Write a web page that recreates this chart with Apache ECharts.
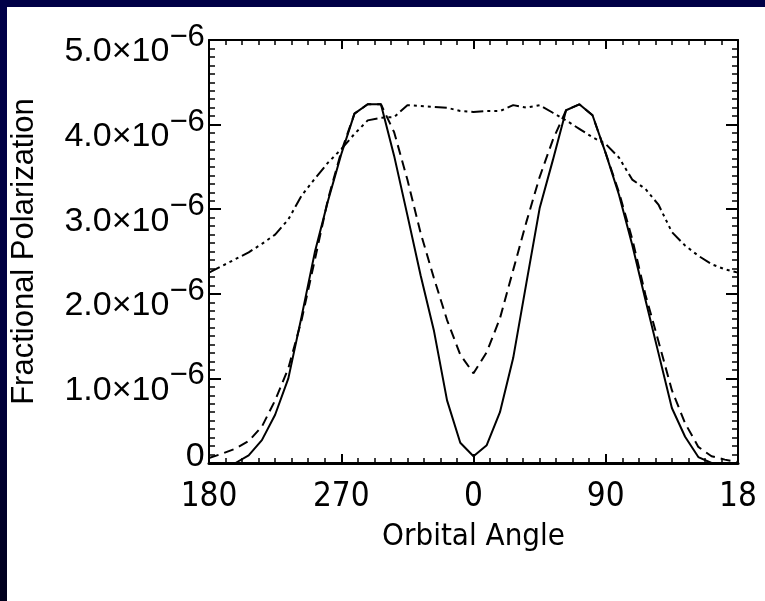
<!DOCTYPE html>
<html>
<head>
<meta charset="utf-8">
<script src="https://cdn.jsdelivr.net/npm/echarts@6/dist/echarts.min.js"></script>
<style>
  html, body { margin: 0; padding: 0; background: #ffffff; }
  #chart { width: 765px; height: 601px; }
</style>
</head>
<body>
<div id="chart"></div>
<script>
// Orbital phase (degrees, centred on 0), sampled every 9 degrees
const orbitalAngle = [
  -180, -171, -162, -153, -144, -135, -126, -117, -108, -99,
  -90, -81, -72, -63, -54, -45, -36, -27, -18, -9,
  0, 9, 18, 27, 36, 45, 54, 63, 72, 81,
  90, 99, 108, 117, 126, 135, 144, 153, 162, 171, 180
];

// Fractional polarization, in units of 1e-6
const polSolid = [
  0.00, 0.00, 0.00, 0.09, 0.27, 0.57, 1.00, 1.73, 2.49, 3.10,
  3.65, 4.13, 4.24, 4.24, 3.63, 2.93, 2.22, 1.57, 0.74, 0.24,
  0.08, 0.21, 0.60, 1.24, 2.13, 3.01, 3.58, 4.17, 4.24, 4.11,
  3.66, 3.17, 2.58, 1.93, 1.29, 0.65, 0.31, 0.07, 0.00, 0.00, 0.00
];
const polDashed = [
  0.06, 0.11, 0.17, 0.26, 0.43, 0.74, 1.12, 1.69, 2.40, 3.12,
  3.68, 4.13, 4.24, 4.24, 3.91, 3.35, 2.72, 2.19, 1.69, 1.28,
  1.06, 1.31, 1.71, 2.28, 2.85, 3.38, 3.82, 4.17, 4.24, 4.11,
  3.66, 3.20, 2.65, 1.99, 1.43, 0.86, 0.47, 0.19, 0.08, 0.04, 0.01
];
const polDashDot = [
  2.25, 2.33, 2.41, 2.49, 2.59, 2.70, 2.88, 3.16, 3.36, 3.55,
  3.71, 3.89, 4.05, 4.08, 4.09, 4.23, 4.22, 4.21, 4.20, 4.16,
  4.15, 4.16, 4.16, 4.23, 4.20, 4.23, 4.14, 4.05, 3.95, 3.85,
  3.77, 3.61, 3.35, 3.24, 3.05, 2.73, 2.57, 2.45, 2.35, 2.29, 2.25
];

// Tick labels
const xTickValues = [-180, -90, 0, 90, 180];
const xTickLabels = ['180', '270', '0', '90', '18'];
const yTickValues = [0, 1, 2, 3, 4, 5];
const yTickLabels = ['0', '1.0', '2.0', '3.0', '4.0', '5.0'];

const FONT = '"Liberation Sans", Arial, Helvetica, sans-serif';
const NARROW = '"Liberation Sans Narrow", "DejaVu Sans Condensed", "Liberation Sans", sans-serif';

function pairs(ys) {
  return orbitalAngle.map((a, i) => [a, ys[i]]);
}

const axisLineStyle = { color: '#000', width: 2 };
const boxLine = { show: true, onZero: false, lineStyle: axisLineStyle };

const chart = echarts.init(document.getElementById('chart'), null, { renderer: 'canvas' });

chart.setOption({
  animation: false,
  backgroundColor: '#ffffff',
  graphic: [
    { type: 'rect', shape: { x: 0, y: 0, width: 765, height: 7 }, style: { fill: '#000046' }, silent: true },
    { type: 'rect', shape: { x: 0, y: 0, width: 7, height: 601 },
      style: { fill: new echarts.graphic.LinearGradient(0, 0, 0, 1, [
        { offset: 0, color: '#000048' }, { offset: 0.6, color: '#000040' }, { offset: 1, color: '#00001c' }
      ]) }, silent: true }
  ],
  grid: { left: 209, right: 27, top: 40, bottom: 138, containLabel: false },
  xAxis: [
    {
      type: 'value', min: -180, max: 180, interval: 90,
      position: 'bottom',
      name: 'Orbital Angle', nameLocation: 'middle', nameGap: 58,
      nameTextStyle: { fontFamily: NARROW, fontSize: 31, color: '#000' },
      axisLine: { show: true, onZero: false, lineStyle: { color: '#000', width: 3 } },
      axisTick: { inside: true, length: 9, lineStyle: { color: '#000', width: 2 } },
      minorTick: { show: true, splitNumber: 8, length: 5, lineStyle: { color: '#000', width: 1.5 } },
      splitLine: { show: false },
      axisLabel: {
        margin: 18, fontFamily: NARROW, fontSize: 33, color: '#000',
        formatter: v => { const i = xTickValues.indexOf(v); return i >= 0 ? xTickLabels[i] : ''; }
      }
    },
    {
      type: 'value', min: -180, max: 180, interval: 90,
      position: 'top',
      axisLine: boxLine,
      axisTick: { inside: true, length: 9, lineStyle: { color: '#000', width: 2 } },
      minorTick: { show: true, splitNumber: 8, length: 5, lineStyle: { color: '#000', width: 1.5 } },
      splitLine: { show: false },
      axisLabel: { show: false }
    }
  ],
  yAxis: [
    {
      type: 'value', min: 0, max: 5, interval: 1,
      position: 'left',
      name: 'Fractional Polarization', nameLocation: 'middle', nameGap: 169, nameRotate: 90,
      nameTextStyle: { fontFamily: FONT, fontSize: 31, color: '#000' },
      axisLine: boxLine,
      axisTick: { inside: true, length: 12, lineStyle: { color: '#000', width: 2 } },
      minorTick: { show: true, splitNumber: 10, length: 6, lineStyle: { color: '#000', width: 1.5 } },
      splitLine: { show: false },
      axisLabel: {
        margin: 4, color: '#000', padding: [11, 0, 0, 0],
        formatter: v => {
          const i = yTickValues.indexOf(v);
          if (i < 0) return '';
          if (v === 0) return '{z|' + yTickLabels[i] + '}{hz| }';
          return '{m|' + yTickLabels[i] + '×10}{s|−6}{h| }';
        },
        rich: {
          m: { fontFamily: FONT, fontSize: 34, lineHeight: 34, color: '#000', verticalAlign: 'bottom' },
          s: { fontFamily: FONT, fontSize: 31, lineHeight: 31, color: '#000', verticalAlign: 'top' },
          z: { fontFamily: FONT, fontSize: 34, lineHeight: 34, color: '#000', verticalAlign: 'top' },
          h: { fontSize: 1, lineHeight: 47, color: 'rgba(0,0,0,0)' },
          hz: { fontSize: 1, lineHeight: 58, color: 'rgba(0,0,0,0)' }
        }
      }
    },
    {
      type: 'value', min: 0, max: 5, interval: 1,
      position: 'right',
      axisLine: boxLine,
      axisTick: { inside: true, length: 12, lineStyle: { color: '#000', width: 2 } },
      minorTick: { show: true, splitNumber: 10, length: 6, lineStyle: { color: '#000', width: 1.5 } },
      splitLine: { show: false },
      axisLabel: { show: false }
    }
  ],
  series: [
    {
      name: 'solid', type: 'line', showSymbol: false, data: pairs(polSolid),
      lineStyle: { color: '#000', width: 2, type: 'solid' }
    },
    {
      name: 'dashed', type: 'line', showSymbol: false, data: pairs(polDashed),
      lineStyle: { color: '#000', width: 2, type: [10, 6] }
    },
    {
      name: 'dash-dot', type: 'line', showSymbol: false, data: pairs(polDashDot),
      lineStyle: { color: '#000', width: 2, type: [12, 4, 3, 4, 3, 4, 3, 4] }
    }
  ]
});
</script>
</body>
</html>
